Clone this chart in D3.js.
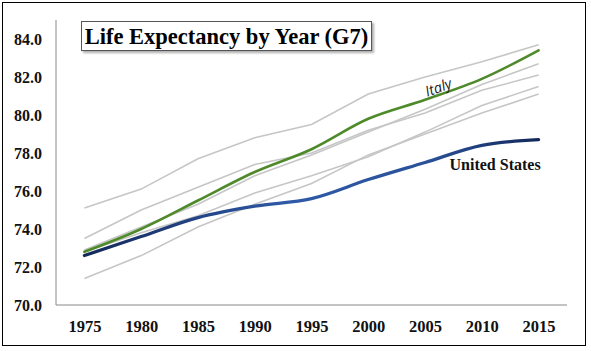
<!DOCTYPE html>
<html>
<head>
<meta charset="utf-8">
<script src="https://cdn.jsdelivr.net/npm/d3@7"></script>
<style>
  body { margin: 0; background: #fff; }
  svg { display: block; }
</style>
</head>
<body>
<svg></svg>
<script>
const years = [1975, 1980, 1985, 1990, 1995, 2000, 2005, 2010, 2015];
const yTicks = [70, 72, 74, 76, 78, 80, 82, 84];

const japan   = [75.1, 76.1, 77.7, 78.8, 79.5, 81.1, 82.0, 82.8, 83.7];
const canada  = [73.5, 75.0, 76.2, 77.4, 78.0, 79.2, 80.1, 81.3, 82.1];
const france  = [72.9, 74.1, 75.3, 76.8, 77.9, 79.1, 80.3, 81.6, 82.7];
const uk      = [72.8, 73.8, 74.7, 75.9, 76.8, 77.8, 79.1, 80.5, 81.5];
const germany = [71.4, 72.6, 74.1, 75.3, 76.4, 77.9, 79.0, 80.1, 81.1];
const italy   = [72.8, 74.0, 75.5, 77.0, 78.2, 79.8, 80.8, 81.9, 83.4];
const us      = [72.6, 73.6, 74.6, 75.2, 75.6, 76.6, 77.5, 78.4, 78.7];

const grays = [japan, canada, france, uk, germany];

const serif = "'Liberation Serif', 'Times New Roman', serif";

const svg = d3.select("svg")
    .attr("width", 591)
    .attr("height", 351);

const margin = { top: 20, right: 24, bottom: 46, left: 56 };
const width = 591 - margin.left - margin.right;
const height = 351 - margin.top - margin.bottom;

// outer frame
svg.append("rect")
    .attr("x", 2.5).attr("y", 2.5)
    .attr("width", 583).attr("height", 343)
    .attr("fill", "#fff")
    .attr("stroke", "#000")
    .attr("stroke-width", 1);

const g = svg.append("g")
    .attr("transform", `translate(${margin.left},${margin.top})`);

const x = d3.scalePoint()
    .domain(years)
    .range([0, width])
    .padding(0.5);

const y = d3.scaleLinear()
    .domain([70, 85])
    .range([height, 0]);

const defs = svg.append("defs");
const grad = defs.append("linearGradient")
    .attr("id", "usGrad")
    .attr("gradientUnits", "userSpaceOnUse")
    .attr("x1", x(1975)).attr("x2", x(2015))
    .attr("y1", 0).attr("y2", 0);
grad.append("stop").attr("offset", "0%").attr("stop-color", "#14295a");
grad.append("stop").attr("offset", "45%").attr("stop-color", "#2f5aa8");
grad.append("stop").attr("offset", "75%").attr("stop-color", "#2a519a");
grad.append("stop").attr("offset", "100%").attr("stop-color", "#14295a");

const shadow = defs.append("filter").attr("id", "shadow")
    .attr("x", "-10%").attr("y", "-20%").attr("width", "120%").attr("height", "160%");
shadow.append("feDropShadow")
    .attr("dx", 2).attr("dy", 2).attr("stdDeviation", 1.2)
    .attr("flood-color", "#777").attr("flood-opacity", 0.6);

// axes
const yAxis = g.append("g")
    .call(d3.axisLeft(y).tickValues(yTicks).tickSize(0).tickPadding(14)
        .tickFormat(d3.format(".1f")));
yAxis.select(".domain").attr("stroke", "#888").attr("d", `M0,${y(70)}V0`);
yAxis.selectAll("text")
    .attr("font-family", serif)
    .attr("font-weight", "bold")
    .attr("font-size", 16)
    .attr("fill", "#111");

const xAxis = g.append("g")
    .attr("transform", `translate(0,${height})`)
    .call(d3.axisBottom(x).tickSize(0).tickPadding(15.5));
xAxis.select(".domain").attr("stroke", "#888").attr("d", `M0,0H${width}`);
xAxis.selectAll("text")
    .attr("font-family", serif)
    .attr("font-weight", "bold")
    .attr("font-size", 16.5)
    .attr("fill", "#111");

const line = d3.line()
    .x((d, i) => x(years[i]))
    .y(d => y(d));

const smooth = d3.line()
    .x((d, i) => x(years[i]))
    .y(d => y(d))
    .curve(d3.curveCatmullRom.alpha(0.5));

g.selectAll(".gray")
    .data(grays)
    .enter()
    .append("path")
    .attr("class", "gray")
    .attr("d", line)
    .attr("fill", "none")
    .attr("stroke", "#c6c6c6")
    .attr("stroke-width", 1.6);

g.append("path")
    .attr("d", smooth(us))
    .attr("fill", "none")
    .attr("stroke", "url(#usGrad)")
    .attr("stroke-width", 3.2)
    .attr("stroke-linecap", "round");

g.append("path")
    .attr("d", smooth(italy))
    .attr("fill", "none")
    .attr("stroke", "#4f8a2a")
    .attr("stroke-width", 2.6)
    .attr("stroke-linecap", "round");

// labels
g.append("text")
    .attr("transform", `translate(${x(2005) + 15},${y(81.2)}) rotate(-20)`)
    .attr("text-anchor", "middle")
    .attr("font-family", "'Open Sans', 'Liberation Sans', sans-serif")
    .attr("font-style", "italic")
    .attr("font-size", 14.5)
    .attr("fill", "#222")
    .text("Italy");

g.append("text")
    .attr("x", x(2015) + 2)
    .attr("y", y(77.1))
    .attr("text-anchor", "end")
    .attr("font-family", serif)
    .attr("font-weight", "bold")
    .attr("font-size", 16)
    .attr("fill", "#111")
    .text("United States");

// title box
const title = svg.append("g");
title.append("rect")
    .attr("x", 81.5).attr("y", 21.5)
    .attr("width", 290).attr("height", 29)
    .attr("fill", "#fff")
    .attr("stroke", "#555")
    .attr("stroke-width", 1)
    .attr("filter", "url(#shadow)");
title.append("text")
    .attr("x", 226.5).attr("y", 43.5)
    .attr("text-anchor", "middle")
    .attr("font-family", serif)
    .attr("font-weight", "bold")
    .attr("font-size", 22.5)
    .attr("fill", "#000")
    .text("Life Expectancy by Year (G7)");
</script>
</body>
</html>
